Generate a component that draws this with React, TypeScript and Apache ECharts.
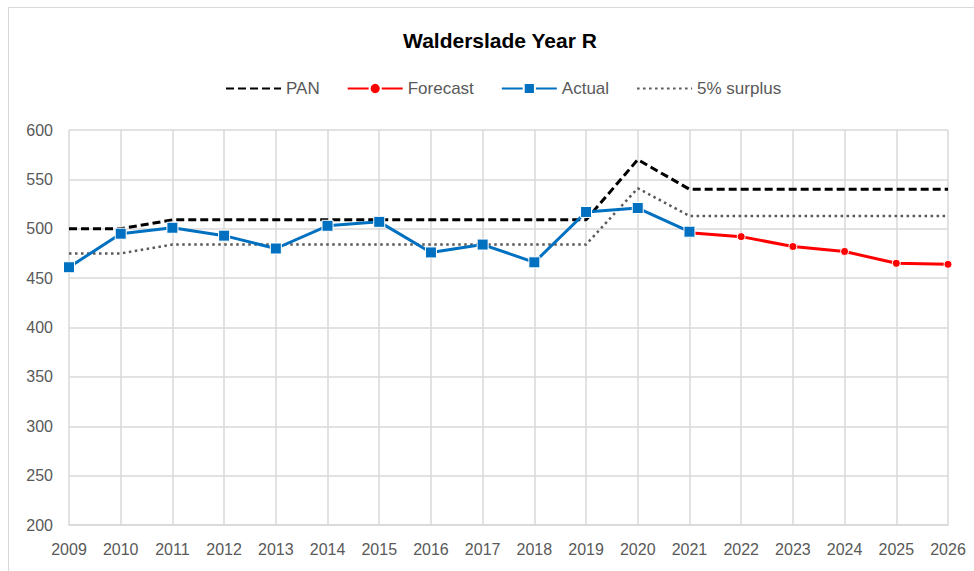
import React, { useEffect, useRef } from "react";
import * as echarts from "echarts";

const years = ["2009","2010","2011","2012","2013","2014","2015","2016","2017","2018","2019","2020","2021","2022","2023","2024","2025","2026"];
const pan = [500,500,509,509,509,509,509,509,509,509,509,570,540,540,540,540,540,540];
const forecast = [null,null,null,null,null,null,null,null,null,null,null,null,496,492,482,477,465,464];
const actual = [461,495,501,493,480,503,507,476,484,466,517,521,497,null,null,null,null,null];
const surplus = [475,475,484,484,484,484,484,484,484,484,484,541,513,513,513,513,513,513];
const legendNames = ["PAN", "Forecast", "Actual", "5% surplus"];

const FONT = "'Liberation Sans', Arial, sans-serif";

export default function App() {
  const ref = useRef<HTMLDivElement>(null);
  useEffect(() => {
    if (!ref.current) return;
    const chart = echarts.init(ref.current, undefined, { renderer: "svg" });
    chart.setOption({
      animation: false,
      backgroundColor: "#ffffff",
      textStyle: { fontFamily: FONT },
      graphic: [
        {
          type: "rect",
          shape: { x: 8.5, y: 7.5, width: 1200, height: 800 },
          style: { fill: "none", stroke: "#d9d9d9", lineWidth: 1 },
          silent: true,
        },
        {
          type: "text",
          x: 500,
          y: 40,
          style: {
            text: "Walderslade Year R",
            fill: "#000000",
            font: `bold 21px ${FONT}`,
            textAlign: "center",
            textVerticalAlign: "middle",
          },
        },
      ],
      legend: {
        left: 220,
        top: 75,
        itemWidth: 55,
        itemHeight: 14,
        itemGap: 27,
        textStyle: { fontSize: 17, color: "#595959", fontFamily: FONT },
        data: [
          { name: legendNames[0], itemStyle: { opacity: 0 } },
          { name: legendNames[1] },
          { name: legendNames[2] },
          { name: legendNames[3], itemStyle: { opacity: 0 } },
        ],
      },
      grid: { left: 69, right: 26, top: 130, bottom: 46, containLabel: false },
      xAxis: {
        type: "category",
        data: years,
        boundaryGap: false,
        axisLine: { show: true, lineStyle: { color: "#d9d9d9", width: 1.5 } },
        axisTick: { show: false },
        axisLabel: { color: "#595959", fontSize: 16, margin: 16, fontFamily: FONT },
        splitLine: { show: true, lineStyle: { color: "#d9d9d9", width: 1.5 } },
      },
      yAxis: {
        type: "value",
        min: 200,
        max: 600,
        interval: 50,
        axisLine: { show: false },
        axisTick: { show: false },
        axisLabel: { color: "#595959", fontSize: 16, margin: 16, fontFamily: FONT },
        splitLine: { show: true, lineStyle: { color: "#d9d9d9", width: 1.5 } },
      },
      series: [
        {
          name: "PAN",
          type: "line",
          data: pan,
          symbol: "none",
          lineStyle: { color: "#000000", width: 3, type: [8, 4] },
          itemStyle: { color: "#000000" },
          z: 2,
        },
        {
          name: "Forecast",
          type: "line",
          data: forecast,
          symbol: "circle",
          symbolSize: 8,
          lineStyle: { color: "#ff0000", width: 3 },
          itemStyle: { color: "#ff0000", borderColor: "#ffffff", borderWidth: 1 },
          z: 3,
        },
        {
          name: "Actual",
          type: "line",
          data: actual,
          symbol: "rect",
          symbolSize: 11,
          lineStyle: { color: "#0070c0", width: 3 },
          itemStyle: { color: "#0070c0", borderColor: "#ffffff", borderWidth: 1 },
          z: 4,
        },
        {
          name: "5% surplus",
          type: "line",
          data: surplus,
          symbol: "none",
          lineStyle: { color: "#595959", width: 2.5, type: [2.5, 3.5] },
          itemStyle: { color: "#595959" },
          z: 1,
        },
      ],
    });
    return () => chart.dispose();
  }, []);
  return (
    <div
      ref={ref}
      style={{ position: "absolute", left: 0, top: 0, width: 974, height: 571 }}
    />
  );
}
